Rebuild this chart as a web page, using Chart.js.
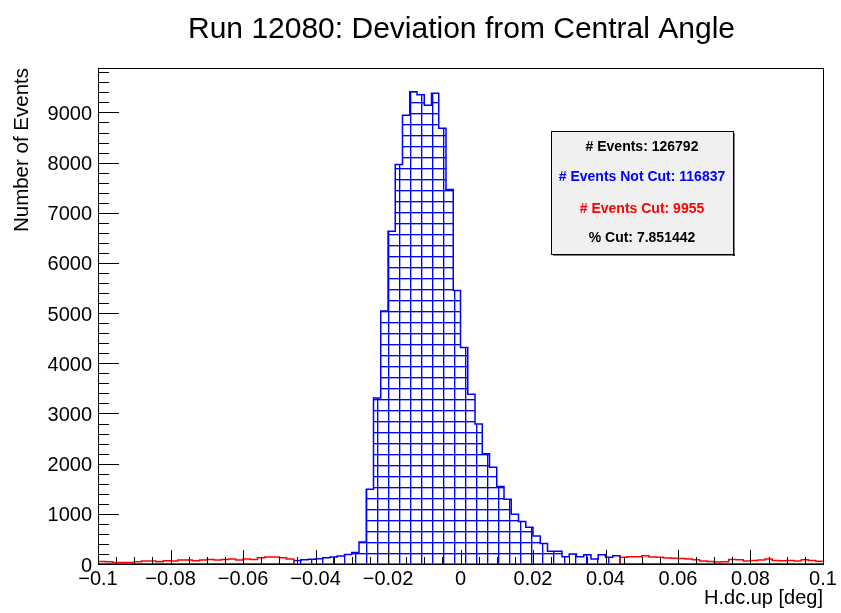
<!DOCTYPE html>
<html><head><meta charset="utf-8">
<script src="https://cdn.jsdelivr.net/npm/chart.js@4/dist/chart.umd.min.js"></script>
<style>html,body{margin:0;padding:0;background:#fff;}canvas{display:block;}</style>
</head><body>
<canvas id="c" width="841" height="613"></canvas>
<script>
// ---------------- data ----------------
const xMin = -0.1;
const xMax = 0.1;
const binWidth = 0.002;
// 100 bins from -0.1 to 0.1, counts of events NOT cut (blue)
const notCutCounts = [
  0,0,0,0,0,0,0,0,0,0,
  0,0,0,0,0,0,0,0,0,0,
  0,0,0,0,0,0,0,70,85,95,
  105,125,140,160,190,230,440,1490,3310,5044,
  6633,7964,8942,9415,9351,9142,9381,8683,7465,5449,
  4317,3385,2788,2196,1930,1543,1291,992,845,732,
  560,410,255,255,146,200,146,186,100,186,
  133,166,0,0,0,0,0,0,0,0,
  0,0,0,0,0,0,0,0,0,0,
  0,0,0,0,0,0,0,0,0,0
];
// counts of events cut (red)
const cutCounts = [
  50,45,30,30,30,45,60,60,45,65,
  60,80,80,65,80,90,80,90,100,80,
  100,90,125,140,140,125,100,0,0,0,
  0,0,0,0,0,0,0,0,0,0,
  0,0,0,0,0,0,0,0,0,0,
  0,0,0,0,0,0,0,0,0,0,
  0,0,0,0,0,0,0,0,0,0,
  0,0,133,146,146,166,140,133,120,113,
  110,100,85,60,50,40,45,90,85,60,
  70,80,100,70,65,70,60,85,70,55
];
const yMax = 9886;
const xTickValues = [-0.1,-0.08,-0.06,-0.04,-0.02,0,0.02,0.04,0.06,0.08,0.1];
const xTickLabels = ["\u22120.1","\u22120.08","\u22120.06","\u22120.04","\u22120.02","0","0.02","0.04","0.06","0.08","0.1"];
const yTickValues = [0,1000,2000,3000,4000,5000,6000,7000,8000,9000];
const yTickLabels = ["0","1000","2000","3000","4000","5000","6000","7000","8000","9000"];
const titleText = "Run 12080: Deviation from Central Angle";
const xTitleText = "H.dc.up [deg]";
const yTitleText = "Number of Events";
const statsTexts = ["# Events: 126792","# Events Not Cut: 116837","# Events Cut: 9955","% Cut: 7.851442"];

// ---------------- build ----------------
const FONT = '"Liberation Sans", Arial, Helvetica, sans-serif';
const statsColors = ["#000000","#0000ff","#ff0000","#000000"];

function toSteps(counts){
  const pts = counts.map((c,i)=>({x: xMin + i*binWidth, y: c}));
  pts.push({x: xMax, y: counts[counts.length-1]});
  return pts;
}

// hatched (grid) fill pattern like ROOT fill style
const pc = document.createElement('canvas');
pc.width = 11; pc.height = 11;
const pctx = pc.getContext('2d');
pctx.fillStyle = 'rgba(0,0,255,1)';
pctx.fillRect(3,0,1,11);
pctx.fillRect(0,3,11,1);
pctx.fillStyle = 'rgba(0,0,255,0.35)';
pctx.fillRect(4,0,1,11);
pctx.fillRect(0,4,11,1);
const ctx0 = document.getElementById('c').getContext('2d');
const hatch = ctx0.createPattern(pc, 'repeat');

const rootDecor = {
  id: 'rootDecor',
  afterDraw(chart){
    const ctx = chart.ctx, a = chart.chartArea, xs = chart.scales.x, ys = chart.scales.y;
    ctx.save();
    ctx.strokeStyle = '#000'; ctx.lineWidth = 1;
    ctx.beginPath();
    for (let i = 0; i * 200 <= yMax; i++) {
      const y = Math.round(ys.getPixelForValue(i*200)) + 0.5;
      const len = (i % 5 === 0) ? 21 : 11;
      ctx.moveTo(a.left, y); ctx.lineTo(a.left + len, y);
    }
    for (let i = -20; i <= 20; i++) {
      const x = Math.round(xs.getPixelForValue(i*0.005)) + 0.5;
      const len = (i % 4 === 0) ? 14 : 7;
      ctx.moveTo(x, a.bottom); ctx.lineTo(x, a.bottom - len);
    }
    ctx.stroke();
    ctx.strokeRect(Math.round(a.left)+0.5, Math.round(a.top)+0.5, Math.round(a.width), Math.round(a.height));

    // title
    ctx.fillStyle = '#000';
    ctx.font = '30px ' + FONT;
    ctx.textAlign = 'center'; ctx.textBaseline = 'alphabetic';
    ctx.fillText(titleText, (a.left + a.right)/2 + 1, 38);
    // x title
    ctx.font = '20px ' + FONT;
    ctx.textAlign = 'right';
    ctx.fillText(xTitleText, a.right, 604);
    // y title
    ctx.save();
    ctx.font = '20.5px ' + FONT;
    ctx.translate(28, a.top);
    ctx.rotate(-Math.PI/2);
    ctx.textAlign = 'right';
    ctx.fillText(yTitleText, 0, 0);
    ctx.restore();

    // stats box
    const bx = 551, by = 131, bw = 182, bh = 123;
    ctx.fillStyle = '#f0f0f0';
    ctx.fillRect(bx, by, bw, bh);
    ctx.fillStyle = '#000';
    ctx.fillRect(bx+bw, by+2, 1.5, bh);
    ctx.fillRect(bx+2, by+bh, bw, 1.5);
    ctx.strokeRect(bx+0.5, by+0.5, bw, bh);
    ctx.font = 'bold 14px ' + FONT;
    ctx.textAlign = 'center'; ctx.textBaseline = 'middle';
    const ys2 = [147, 177, 209, 238];
    statsTexts.forEach((t,i)=>{ ctx.fillStyle = statsColors[i]; ctx.fillText(t, bx + bw/2, ys2[i]); });
    ctx.restore();
  }
};

new Chart(ctx0, {
  type: 'line',
  data: {
    datasets: [
      { label: 'Not cut', data: toSteps(notCutCounts), borderColor: '#0000ff', borderWidth: 1.5,
        backgroundColor: hatch, fill: 'origin', stepped: true, pointRadius: 0, order: 2 },
      { label: 'Cut', data: toSteps(cutCounts), borderColor: '#ff0000', borderWidth: 1.5,
        fill: false, stepped: true, pointRadius: 0, order: 1 }
    ]
  },
  options: {
    responsive: false, devicePixelRatio: 1, animation: false,
    layout: { padding: { left: 0, right: 18, top: 68, bottom: 0 } },
    plugins: { legend: { display: false }, tooltip: { enabled: false }, title: { display: false } },
    scales: {
      x: {
        type: 'linear', min: xMin, max: xMax,
        afterBuildTicks: s => { s.ticks = xTickValues.map(v => ({ value: v })); },
        ticks: { callback: (v, i) => xTickLabels[i], font: { family: FONT, size: 20 }, color: '#000',
                 padding: 3, maxRotation: 0, autoSkip: false },
        grid: { display: false, drawTicks: false }, border: { display: false },
        afterFit: s => { s.height = 49; s.paddingLeft = 0; s.paddingRight = 0; }
      },
      y: {
        min: 0, max: yMax,
        afterBuildTicks: s => { s.ticks = yTickValues.map(v => ({ value: v })); },
        ticks: { callback: (v, i) => yTickLabels[i], font: { family: FONT, size: 20 }, color: '#000',
                 padding: 6, labelOffset: 2, autoSkip: false },
        grid: { display: false, drawTicks: false }, border: { display: false },
        afterFit: s => { s.width = 98; s.paddingTop = 0; s.paddingBottom = 0; }
      }
    }
  },
  plugins: [rootDecor]
});
</script>
</body></html>
